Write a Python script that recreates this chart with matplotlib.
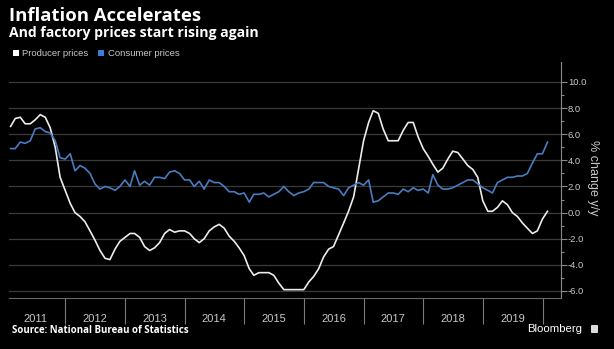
import matplotlib
matplotlib.use("Agg")
import matplotlib.pyplot as plt
import matplotlib.dates as mdates
from matplotlib.patches import Patch, FancyBboxPatch
import pandas as pd
import datetime as dt

plt.rcParams['axes.unicode_minus'] = False

# ---- data (monthly, Jan 2011 - Jan 2020, % change y/y) ----
ppi = [6.6, 7.2, 7.3, 6.8, 6.8, 7.1, 7.5, 7.3, 6.5, 5.0, 2.7, 1.7,
       0.7, 0.0, -0.3, -0.7, -1.4, -2.1, -2.9, -3.5, -3.6, -2.8, -2.2, -1.9,
       -1.6, -1.6, -1.9, -2.6, -2.9, -2.7, -2.3, -1.6, -1.3, -1.5, -1.4, -1.4,
       -1.6, -2.0, -2.3, -2.0, -1.4, -1.1, -0.9, -1.2, -1.8, -2.2, -2.7, -3.3,
       -4.3, -4.8, -4.6, -4.6, -4.6, -4.8, -5.4, -5.9, -5.9, -5.9, -5.9, -5.9,
       -5.3, -4.9, -4.3, -3.4, -2.8, -2.6, -1.7, -0.8, 0.1, 1.2, 3.3, 5.5,
       6.9, 7.8, 7.6, 6.4, 5.5, 5.5, 5.5, 6.3, 6.9, 6.9, 5.8, 4.9,
       4.3, 3.7, 3.1, 3.4, 4.1, 4.7, 4.6, 4.1, 3.6, 3.3, 2.7, 0.9,
       0.1, 0.1, 0.4, 0.9, 0.6, 0.0, -0.3, -0.8, -1.2, -1.6, -1.4, -0.5,
       0.1]
cpi = [4.9, 4.9, 5.4, 5.3, 5.5, 6.4, 6.5, 6.2, 6.1, 5.5, 4.2, 4.1,
       4.5, 3.2, 3.6, 3.4, 3.0, 2.2, 1.8, 2.0, 1.9, 1.7, 2.0, 2.5,
       2.0, 3.2, 2.1, 2.4, 2.1, 2.7, 2.7, 2.6, 3.1, 3.2, 3.0, 2.5,
       2.5, 2.0, 2.4, 1.8, 2.5, 2.3, 2.3, 2.0, 1.6, 1.6, 1.4, 1.5,
       0.8, 1.4, 1.4, 1.5, 1.2, 1.4, 1.6, 2.0, 1.6, 1.3, 1.5, 1.6,
       1.8, 2.3, 2.3, 2.3, 2.0, 1.9, 1.8, 1.3, 1.9, 2.1, 2.3, 2.1,
       2.5, 0.8, 0.9, 1.2, 1.5, 1.5, 1.4, 1.8, 1.6, 1.9, 1.7, 1.8,
       1.5, 2.9, 2.1, 1.8, 1.8, 1.9, 2.1, 2.3, 2.5, 2.5, 2.2, 1.9,
       1.7, 1.5, 2.3, 2.5, 2.7, 2.7, 2.8, 2.8, 3.0, 3.8, 4.5, 4.5,
       5.4]
dates = pd.date_range('2011-01-01', periods=len(ppi), freq='MS') + pd.offsets.MonthEnd(0)
years = list(range(2011, 2020))
yticks = [-6, -4, -2, 0, 2, 4, 6, 8, 10]
series_names = ['Producer prices', 'Consumer prices']

# ---- style ----
BG = 'black'
WHITE_LINE = '#ececec'
BLUE = '#4a7cc0'
GRID = '#3a3a3a'
TXT = '#c8c8c8'
NARROW = ['Liberation Sans Narrow', 'Liberation Sans', 'DejaVu Sans']
SANS = ['Liberation Sans', 'DejaVu Sans']
HEAD = ['Open Sans', 'Liberation Sans', 'DejaVu Sans']

W, H = 614, 349
fig = plt.figure(figsize=(W / 100, H / 100), dpi=100, facecolor=BG)
ax = fig.add_axes([9 / W, 1 - 298 / H, (560.7 - 9) / W, (298 - 62) / H])
ax.set_facecolor(BG)

ax.plot(dates, ppi, color=WHITE_LINE, lw=1.2, solid_joinstyle='round', zorder=3)
ax.plot(dates, cpi, color=BLUE, lw=1.2, solid_joinstyle='round', zorder=3)

ax.set_ylim(-6.54, 11.53)
ax.set_xlim(dt.datetime(2011, 1, 21), dt.datetime(2020, 4, 21))

# y axis on right
ax.yaxis.tick_right()
ax.set_yticks(yticks)
ax.set_yticks([v + 1 for v in yticks[:-1]], minor=True)
ax.set_yticklabels(['%.1f' % v for v in yticks], color=TXT, fontsize=6.8,
                   family=NARROW)
ax.tick_params(axis='y', which='major', length=4, width=0.8, color='#8a8a8a', pad=1.2)
ax.tick_params(axis='y', which='minor', length=2.5, width=0.8, color='#8a8a8a')
ax.yaxis.grid(True, which='major', color=GRID, lw=0.9)
ax.set_axisbelow(True)

# x axis: separators at year starts, labels mid-year
ax.set_xticks([mdates.date2num(dt.datetime(y + 1, 1, 1)) for y in years])
ax.set_xticklabels([])
ax.set_xticks([mdates.date2num(dt.datetime(y, 7, 1)) for y in years], minor=True)
ax.set_xticklabels([str(y) for y in years], minor=True, color=TXT, fontsize=8,
                   family=NARROW)
ax.tick_params(axis='x', which='major', length=18.5, width=0.8, color='#7a7a7a', direction='out')
ax.tick_params(axis='x', which='minor', length=0, pad=11.5)

for s in ['left', 'top']:
    ax.spines[s].set_visible(False)
ax.spines['right'].set_color('#8a8a8a')
ax.spines['right'].set_linewidth(0.8)
ax.spines['bottom'].set_color('#6a6a6a')
ax.spines['bottom'].set_linewidth(0.8)

# y label
fig.text(593 / W, 1 - 178 / H, '% change y/y', rotation=-90, ha='center', va='center',
         color=TXT, fontsize=9, family=SANS)

# titles
fig.text(9 / W, 1 - 16 / H, 'Inflation Accelerates', ha='left', va='center',
         color='white', fontsize=13.3, fontweight='bold', family=HEAD)
fig.text(9 / W, 1 - 33.5 / H, 'And factory prices start rising again', ha='left', va='center',
         color='white', fontsize=10.1, fontweight='bold', family=HEAD)

# legend
handles = [Patch(facecolor='white', edgecolor='none'),
           Patch(facecolor='#3a7fd5', edgecolor='none')]
leg = fig.legend(handles, series_names, loc='center left',
                 bbox_to_anchor=(13 / W, 1 - 54 / H), ncol=2, frameon=False,
                 handlelength=0.65, handleheight=0.65,
                 handletextpad=0.35, columnspacing=1.0, borderpad=0, borderaxespad=0,
                 prop={'family': NARROW, 'size': 6.8})
for t in leg.get_texts():
    t.set_color(TXT)

# footer
fig.text(12 / W, 1 - 330.5 / H, 'Source: National Bureau of Statistics', ha='left', va='center',
         color='white', fontsize=7.0, fontweight='bold', family=HEAD)
fig.text(582 / W, 1 - 329 / H, 'Bloomberg', ha='right', va='center',
         color='white', fontsize=8.2, family=SANS)
fig.patches.append(FancyBboxPatch((591 / W, 1 - 333 / H), 7 / W, 8 / H,
                                  boxstyle='round,pad=0,rounding_size=0.002',
                                  transform=fig.transFigure, facecolor='#dddddd',
                                  edgecolor='none'))

fig.savefig('out.png', dpi=100, facecolor=BG)
